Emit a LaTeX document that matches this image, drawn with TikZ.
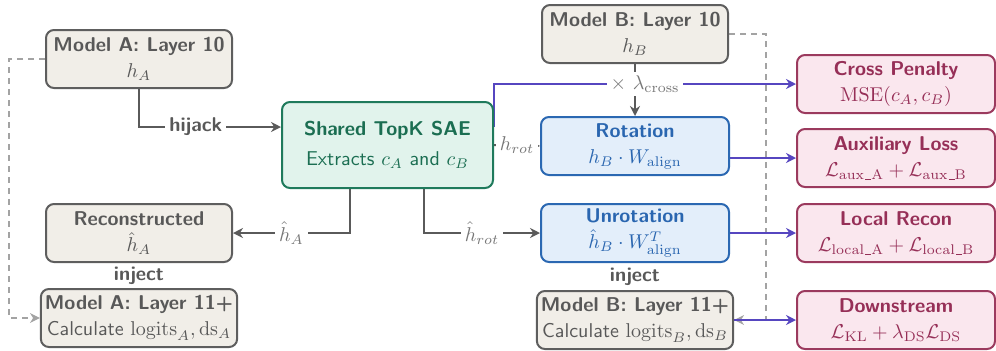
\documentclass[tikz,border=0pt]{standalone}
\usetikzlibrary{arrows.meta,calc}

\definecolor{grayfill}{HTML}{F1EEE8}
\definecolor{graydraw}{HTML}{5E5E5E}
\definecolor{graytext}{HTML}{585858}
\definecolor{greenfill}{HTML}{E1F3EC}
\definecolor{greendraw}{HTML}{1F7A5C}
\definecolor{greentext}{HTML}{1B6E52}
\definecolor{bluefill}{HTML}{E3EEFA}
\definecolor{bluedraw}{HTML}{2B68B2}
\definecolor{bluetext}{HTML}{2A66B0}
\definecolor{pinkfill}{HTML}{FAE7EE}
\definecolor{pinkdraw}{HTML}{9B3A5E}
\definecolor{pinktext}{HTML}{962F57}
\definecolor{lossline}{HTML}{5646C0}
\definecolor{flowline}{HTML}{5A5A5A}
\definecolor{dashline}{HTML}{A3A3A3}
\definecolor{labeltext}{HTML}{777777}

% short low bar used inside subscripts
\newcommand{\subbar}{\kern.06em\vbox{\hrule width.3em}}

\pgfdeclarelayer{wires}
\pgfsetlayers{wires,main}

\tikzset{
  box/.style={rounded corners=4pt, line width=1pt, align=center,
    font=\sffamily, inner sep=2pt, minimum height=29pt},
  modelbox/.style={box, fill=grayfill, draw=graydraw, text=graytext, minimum width=93pt},
  saebox/.style={box, fill=greenfill, draw=greendraw, text=greentext,
    minimum width=105.5pt, minimum height=43pt},
  alignbox/.style={box, fill=bluefill, draw=bluedraw, text=bluetext, minimum width=94pt},
  lossbox/.style={box, fill=pinkfill, draw=pinkdraw, text=pinktext, minimum width=99pt},
  flow/.style={draw=flowline, line width=1pt, -{Stealth[length=5pt,width=5pt]}},
  loss/.style={draw=lossline, line width=1.2pt, -{Stealth[length=5pt,width=5pt]}},
  skip/.style={draw=dashline, line width=0.6pt, dash pattern=on 3pt off 2.5pt,
    -{Stealth[length=5pt,width=5pt,fill=dashline]}},
  wordlab/.style={fill=white, inner sep=2pt, font=\sffamily\bfseries, text=graytext},
  injectlab/.style={wordlab, inner xsep=4pt, inner ysep=4pt},
  mathlab/.style={fill=white, inner sep=2pt, text=labeltext},
}

\begin{document}
\begin{tikzpicture}[x=0.5pt, y=-0.5pt]
  \useasboundingbox (0,0) rectangle (996,350);

  % model A column
  \node[modelbox] (a10)  at (139,59)  {\textbf{Model A: Layer 10}\\[1pt]$h_A$};
  \node[modelbox] (arec) at (139,233) {\textbf{Reconstructed}\\[1pt]$\hat h_A$};
  \node[modelbox] (a11)  at (139,318) {\textbf{Model A: Layer 11+}\\[1pt]Calculate $\mathrm{logits}_A, \mathrm{ds}_A$};

  % shared autoencoder
  \node[saebox] (sae) at (387.5,145) {\textbf{Shared TopK SAE}\\[3pt]Extracts $c_A$ and $c_B$};

  % model B column
  \node[modelbox] (b10)   at (635,34)  {\textbf{Model B: Layer 10}\\[1pt]$h_B$};
  \node[alignbox] (rot)   at (635,146) {\textbf{Rotation}\\[1pt]$h_B\cdot W_{\mathrm{align}}$};
  \node[alignbox] (unrot) at (635,233) {\textbf{Unrotation}\\[1pt]$\hat h_B\cdot W_{\mathrm{align}}^{T}$};
  \node[modelbox] (b11)   at (635,320) {\textbf{Model B: Layer 11+}\\[1pt]Calculate $\mathrm{logits}_B, \mathrm{ds}_B$};

  % loss terms
  \node[lossbox] (cross) at (896,84)  {\textbf{Cross Penalty}\\[1pt]$\mathrm{MSE}(c_A, c_B)$};
  \node[lossbox] (aux)   at (896,158) {\textbf{Auxiliary Loss}\\[1pt]$\mathcal{L}_{\mathrm{aux\subbar A}}+\mathcal{L}_{\mathrm{aux\subbar B}}$};
  \node[lossbox] (local) at (896,233) {\textbf{Local Recon}\\[1pt]$\mathcal{L}_{\mathrm{local\subbar A}}+\mathcal{L}_{\mathrm{local\subbar B}}$};
  \node[lossbox] (down)  at (896,320) {\textbf{Downstream}\\[1pt]$\mathcal{L}_{\mathrm{KL}}+\lambda_{\mathrm{DS}}\mathcal{L}_{\mathrm{DS}}$};

  \begin{pgfonlayer}{wires}
    % residual skips around the SAE
    \draw[skip] (a10.west) -- ++(-36,0) |- (a11.west);
    \draw[skip] (b10.east) -- ++(37,0) |- (b11.east);

    % activation flow
    \draw[flow] (a10.south) |- node[wordlab, pos=0.70] {hijack} ([yshift=9pt]sae.west);
    \draw[flow] ([xshift=-18.75pt]sae.south) |- node[mathlab, pos=0.75] {$\hat h_A$} (arec.east);
    \draw[flow] ([xshift=18.25pt]sae.south) |- node[mathlab, pos=0.75] {$\hat h_{rot}$} (unrot.west);
    \draw[flow] (sae.east) -- node[mathlab] {$h_{rot}$} (rot.west);
    \draw[flow] (b10.south) -- (rot.north);
    \draw[flow] (arec.south) -- node[injectlab] {inject} (a11.north);
    \draw[flow] (unrot.south) -- node[injectlab] {inject} (b11.north);

    % loss connections
    \draw[loss] ([yshift=9pt]sae.east) |- node[mathlab, pos=0.75] {$\times\ \lambda_{\mathrm{cross}}$} (cross.west);
    \draw[loss] (rot.east |- aux.west) -- (aux.west);
    \draw[loss] (unrot.east) -- (local.west);
    \draw[loss] (b11.east) -- (down.west);
  \end{pgfonlayer}
\end{tikzpicture}
\end{document}
